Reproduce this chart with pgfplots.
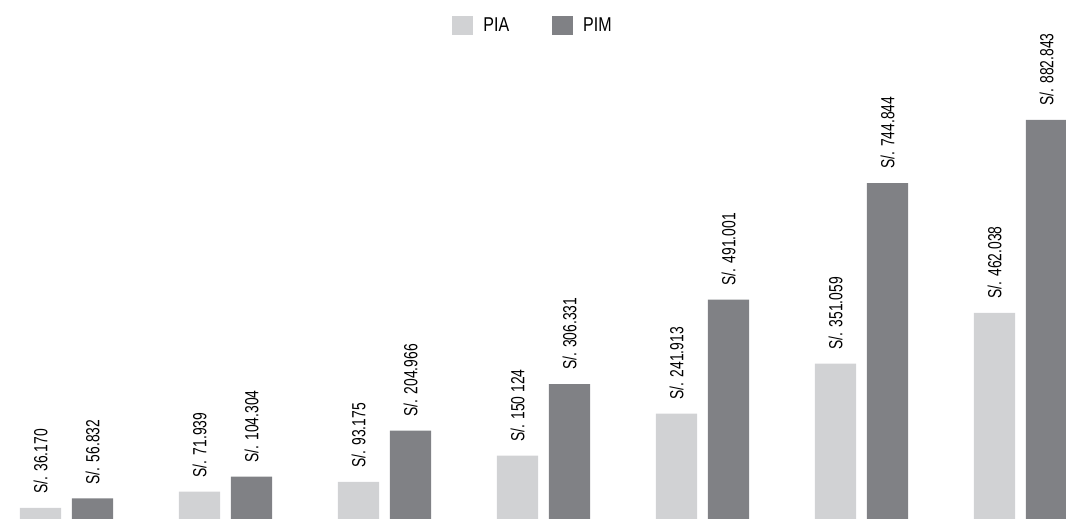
\documentclass[border=0pt]{standalone}
\usepackage{pgfplots}
\pgfplotsset{compat=1.18}
\usepackage{fontspec}
\setmainfont{Liberation Sans}
\newfontfamily\lblfont[FakeStretch=0.73]{Liberation Sans}
\newfontfamily\legfont[FakeStretch=0.8]{Liberation Sans}
\definecolor{pia}{RGB}{209,210,212}
\definecolor{pim}{RGB}{128,129,133}
\begin{document}
\begin{tikzpicture}
\begin{axis}[
  scale only axis,
  width=1066pt, height=519pt,
  xmin=-0.4182, xmax=6.2862,
  ymin=12150, ymax=1144600,
  enlargelimits=false,
  axis line style={draw=none},
  ticks=none,
  point meta=explicit symbolic,
  nodes near coords,
  every node near coord/.append style={font=\lblfont\fontsize{19}{22}\selectfont, rotate=90, anchor=west, inner xsep=15pt, inner ysep=0pt, xshift=-1pt, text=black},
  legend style={draw=none, fill=none, at={(0.5,1)}, anchor=north, yshift=-14pt,
    legend columns=-1, font=\legfont\fontsize{20}{23}\selectfont,
    /tikz/every odd column/.append style={column sep=8pt},
    /tikz/every even column/.append style={column sep=41pt}},
  legend image code/.code={\fill[#1] (0pt,-9.5pt) rectangle (21pt,9.5pt);},
]
\addplot[ybar, bar width=0.258, bar shift=0, fill=pia, draw=none] coordinates {
  (-0.1635,36170) [S/. 36.170]
  (0.8365,71939) [S/. 71.939]
  (1.8365,93175) [S/. 93.175]
  (2.8365,150124) [S/. 150 124]
  (3.8365,241913) [S/. 241.913]
  (4.8365,351059) [S/. 351.059]
  (5.8365,462038) [S/. 462.038]
};
\addlegendentry{PIA}
\addplot[ybar, bar width=0.258, bar shift=0, fill=pim, draw=none] coordinates {
  (0.1635,56832) [S/. 56.832]
  (1.1635,104304) [S/. 104.304]
  (2.1635,204966) [S/. 204.966]
  (3.1635,306331) [S/. 306.331]
  (4.1635,491001) [S/. 491.001]
  (5.1635,744844) [S/. 744.844]
  (6.1635,882843) [S/. 882.843]
};
\addlegendentry{PIM}
\end{axis}
\end{tikzpicture}
\end{document}
